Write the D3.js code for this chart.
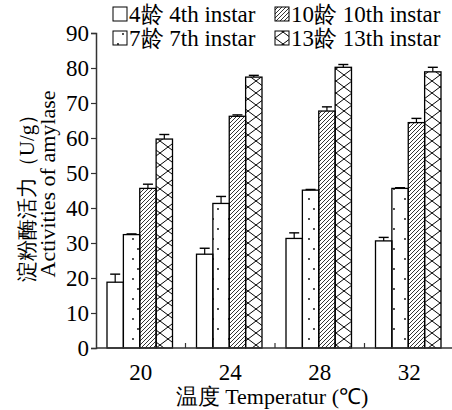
<!DOCTYPE html>
<html>
<head>
<meta charset="utf-8">
<script src="https://cdn.jsdelivr.net/npm/d3@7"></script>
</head>
<body style="margin:0">
<svg width="452" height="410" font-family="Liberation Serif"></svg>
<script>
const temps = ['20', '24', '28', '32'];
const series = ['4龄 4th instar', '7龄 7th instar', '10龄 10th instar', '13龄 13th instar'];
const means = [
  [18.8, 26.8, 31.3, 30.6],   // 4th instar
  [32.4, 41.3, 45.1, 45.6],   // 7th instar
  [45.6, 66.2, 67.7, 64.4],   // 10th instar
  [59.7, 77.4, 80.2, 78.9]    // 13th instar
];
const errs = [
  [2.3, 1.7, 1.6, 1.0],
  [0.2, 2.0, 0.2, 0.2],
  [1.2, 0.4, 1.2, 1.2],
  [1.3, 0.5, 0.8, 1.3]
];
const yTicks = [0, 10, 20, 30, 40, 50, 60, 70, 80, 90];

const FONT = 'Liberation Serif';

const svg = d3.select('svg');
const margin = { top: 33, left: 96, bottom: 62, right: -2 };
const width = +svg.attr('width'), height = +svg.attr('height');
const innerWidth = width - margin.left - margin.right;
const innerHeight = height - margin.top - margin.bottom;

// fill patterns
const defs = svg.append('defs');
const dots = defs.append('pattern').attr('id', 'dots')
  .attr('patternUnits', 'userSpaceOnUse').attr('width', 16).attr('height', 20);
dots.append('circle').attr('cx', 5).attr('cy', 6).attr('r', 0.9).attr('fill', '#000');
dots.append('circle').attr('cx', 10).attr('cy', 16).attr('r', 0.9).attr('fill', '#000');

const hatch = defs.append('pattern').attr('id', 'hatch')
  .attr('patternUnits', 'userSpaceOnUse').attr('width', 4).attr('height', 4);
hatch.append('path').attr('d', 'M-1,1 l2,-2 M0,4 l4,-4 M3,5 l2,-2')
  .attr('stroke', '#000').attr('stroke-width', 0.8);

const cross = defs.append('pattern').attr('id', 'cross')
  .attr('patternUnits', 'userSpaceOnUse').attr('width', 16).attr('height', 12);
cross.append('path').attr('d', 'M0,0 L16,12 M16,0 L0,12')
  .attr('stroke', '#000').attr('stroke-width', 1);

const fills = ['#fff', 'url(#dots)', 'url(#hatch)', 'url(#cross)'];

const g = svg.append('g').attr('transform', `translate(${margin.left},${margin.top})`);

const x0 = d3.scaleBand().domain(temps).range([0, innerWidth]).padding(0);
const x1 = d3.scaleBand().domain(d3.range(series.length)).range([11, x0.bandwidth() - 13]);
const y = d3.scaleLinear().domain([0, 90]).range([innerHeight, 0]);

// y axis: line and ticks from d3.axisLeft, labels added separately
const yAxisG = g.append('g')
  .call(d3.axisLeft(y).tickValues(yTicks).tickSize(5).tickFormat(''));
yAxisG.attr('font-family', null).attr('font-size', null);
yAxisG.selectAll('.tick text').remove();
yAxisG.select('.domain').attr('stroke', '#333').attr('stroke-width', 1.5);
yAxisG.selectAll('.tick line').attr('stroke', '#333').attr('stroke-width', 1.2);

g.selectAll('.ylbl').data(yTicks).join('text')
  .attr('x', -7).attr('y', d => y(d) + 8)
  .attr('text-anchor', 'end')
  .attr('font-size', 23).attr('font-family', FONT)
  .text(d => d);

// bars
series.forEach((s, si) => {
  const bg = g.append('g');
  temps.forEach((t, ti) => {
    const bx = x0(t) + x1(si);
    const bw = x1.bandwidth();
    const v = means[si][ti], e = errs[si][ti];
    bg.append('rect')
      .attr('x', bx).attr('y', y(v))
      .attr('width', bw).attr('height', y(0) - y(v))
      .attr('fill', fills[si]).attr('stroke', '#000').attr('stroke-width', 1.3);
    const cx = bx + bw / 2;
    bg.append('line').attr('x1', cx).attr('x2', cx)
      .attr('y1', y(v)).attr('y2', y(v + e)).attr('stroke', '#000').attr('stroke-width', 1.2);
    bg.append('line').attr('x1', cx - 5).attr('x2', cx + 5)
      .attr('y1', y(v + e)).attr('y2', y(v + e)).attr('stroke', '#000').attr('stroke-width', 1.4);
  });
});

// x axis with inward separators between groups
const xAxisG = g.append('g').attr('transform', `translate(0,${innerHeight})`);
xAxisG.append('line').attr('x1', 0).attr('x2', innerWidth).attr('y1', 0).attr('y2', 0)
  .attr('stroke', '#333').attr('stroke-width', 1.5);
xAxisG.selectAll('.sep').data(temps.slice(1)).join('line')
  .attr('x1', d => x0(d)).attr('x2', d => x0(d)).attr('y1', 0).attr('y2', -5)
  .attr('stroke', '#333').attr('stroke-width', 1.2);
xAxisG.selectAll('.lbl').data(temps).join('text')
  .attr('x', d => x0(d) + x0.bandwidth() / 2).attr('y', 32)
  .attr('text-anchor', 'middle').attr('font-family', FONT).attr('font-size', 23).text(d => d);

svg.append('text').attr('x', 272).attr('y', 404)
  .attr('text-anchor', 'middle').attr('font-family', FONT).attr('font-size', 22)
  .text('温度 Temperatur (℃)');

// y axis titles
svg.append('text').attr('transform', 'translate(34,193) rotate(-90)')
  .attr('text-anchor', 'middle').attr('font-family', FONT).attr('font-size', 21)
  .text('淀粉酶活力（U/g）');
svg.append('text').attr('transform', 'translate(55,184) rotate(-90)')
  .attr('text-anchor', 'middle').attr('font-family', FONT).attr('font-size', 22)
  .text('Activities of amylase');

// legend
const legPos = [[113, 14], [113, 38], [275, 14], [275, 38]];
series.forEach((s, si) => {
  const lg = svg.append('g').attr('transform', `translate(${legPos[si][0]},${legPos[si][1]})`);
  lg.append('rect').attr('x', 0).attr('y', -7).attr('width', 14).attr('height', 14)
    .attr('fill', fills[si]).attr('stroke', '#000').attr('stroke-width', 1);
  lg.append('text').attr('x', 16).attr('y', 7.5).attr('font-family', FONT).attr('font-size', 23).text(s);
});
</script>
</body>
</html>
